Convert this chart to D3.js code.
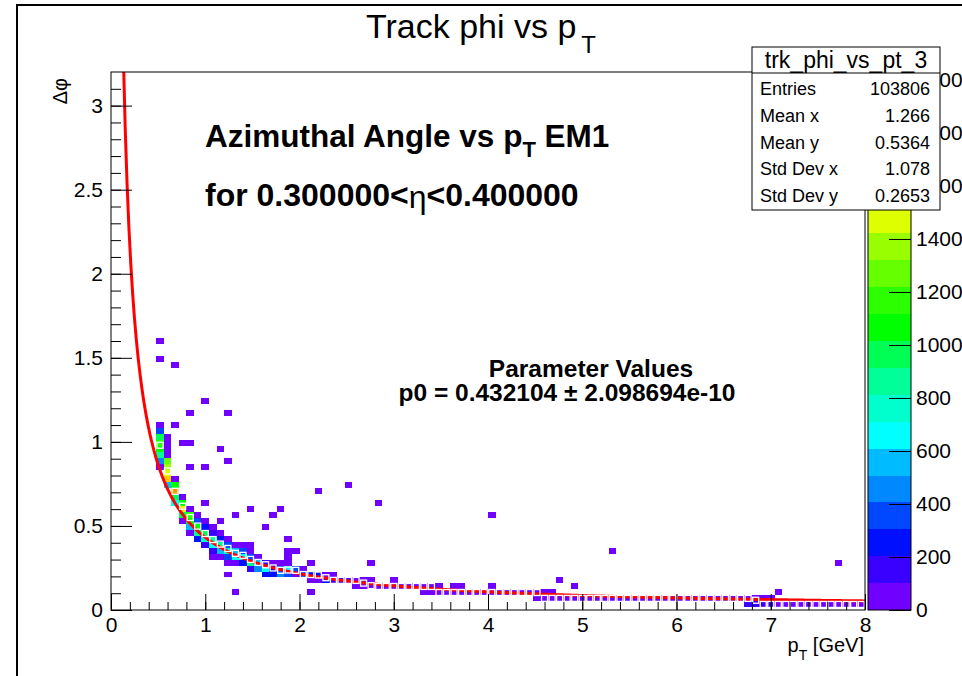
<!DOCTYPE html>
<html>
<head>
<meta charset="utf-8">
<script src="https://cdn.jsdelivr.net/npm/d3@7"></script>
<style>
  body { margin: 0; background: #fff; }
  svg { display: block; }
  text { font-family: "Liberation Sans", Arial, Helvetica, sans-serif; }
</style>
</head>
<body>
<svg id="canvas" width="962" height="676"></svg>
<script>
// ---- histogram binning (trk_phi_vs_pt_3) ----
const ptBins = 100, ptLow = 0, ptHigh = 8;
const phiBins = 90, phiLow = -0.02, phiHigh = 3.18;
const zMax = 2030, nContours = 20;

// core of the distribution: [ptBin, firstPhiBin, contents from low to high dphi]
const bandColumns = [
  [6, 24, [40, 460, 860, 1070, 1170, 960, 350, 40]],
  [7, 21, [560, 1680, 1480, 1370, 1270, 60, 40, 30, 20]],
  [8, 18, [660, 960, 1790, 1070, 50]],
  [9, 15, [40, 960, 1580, 1070, 50]],
  [10, 13, [40, 560, 1070, 1170, 45]],
  [11, 12, [250, 860, 1070, 350, 40]],
  [12, 11, [150, 760, 960, 250, 40]],
  [13, 9, [30, 150, 660, 860, 150, 30]],
  [14, 9, [40, 560, 860, 250, 40]],
  [15, 8, [40, 350, 760, 350, 30]],
  [16, 8, [40, 660, 560, 40]],
  [17, 8, [250, 660, 350, 40]],
  [18, 7, [150, 860, 350, 40, 30]],
  [19, 7, [460, 560, 40]],
  [20, 6, [250, 660, 150]],
  [21, 6, [250, 250, 40]],
  [22, 6, [460, 360, 30]],
  [23, 6, [350, 660, 40, 30, 30]],
  [24, 6, [60, 350]],
  [25, 6, [350, 40]],
  [26, 5, [40, 250]],
  [27, 5, [50, 250]],
  [28, 5, [250, 40]],
  [29, 5, [150, 30]],
  [30, 5, [150]],
  [31, 5, [130]],
  [32, 4, [40, 80]],
  [33, 4, [60, 60]],
  [34, 4, [70, 20]],
  [37, 4, [60, 15]]
];

// long tail at high pT: [phiBin, firstPtBin, lastPtBin, content]
const tailRuns = [
  [4, 35, 42, 55],
  [4, 43, 43, 12],
  [4, 45, 46, 10],
  [4, 50, 50, 8],
  [3, 41, 58, 45],
  [2, 56, 83, 40],
  [2, 84, 87, 60],
  [1, 84, 87, 130],
  [1, 88, 99, 45]
];

// isolated entries: [ptBin, phiBin, content]
const sparseCells = [
  [6, 45, 2], [6, 42, 2], [8, 41, 1], [12, 35, 1], [10, 33, 1], [15, 33, 1],
  [8, 31, 2], [9, 28, 1], [10, 28, 2], [14, 27, 1], [15, 25, 1], [10, 24, 1],
  [12, 24, 1], [27, 20, 1], [31, 21, 1], [35, 18, 1], [12, 18, 1], [22, 17, 1],
  [18, 17, 1], [16, 16, 1], [21, 16, 1], [14, 15, 1], [20, 14, 1], [23, 12, 1],
  [24, 10, 1], [26, 8, 1], [34, 8, 1], [96, 8, 1], [66, 10, 1], [50, 16, 1],
  [15, 6, 1], [16, 3, 1], [26, 3, 1], [59, 5, 1], [61, 4, 1], [88, 3, 1]
];

// mean dphi per pT bin, starting at bin 6
const profileFirstBin = 6;
const profileMean = [
  0.980, 0.827, 0.706, 0.617, 0.550, 0.499, 0.455, 0.419, 0.392, 0.366,
  0.337, 0.325, 0.301, 0.283, 0.269, 0.250, 0.236, 0.238, 0.236, 0.211,
  0.211, 0.208, 0.192, 0.176, 0.176, 0.176, 0.176, 0.160, 0.145, 0.140,
  0.140, 0.140, 0.140, 0.140, 0.140, 0.140, 0.140, 0.104, 0.104, 0.104,
  0.104, 0.104, 0.104, 0.104, 0.104, 0.104, 0.104, 0.104, 0.104, 0.104,
  0.104, 0.069, 0.069, 0.069, 0.069, 0.069, 0.069, 0.069, 0.069, 0.069,
  0.069, 0.069, 0.069, 0.069, 0.069, 0.069, 0.069, 0.069, 0.069, 0.069,
  0.069, 0.069, 0.069, 0.069, 0.069, 0.069, 0.069, 0.069, 0.069, 0.058,
  0.033, 0.033, 0.033, 0.033, 0.033, 0.033, 0.033, 0.033, 0.033, 0.033,
  0.033, 0.033, 0.033, 0.033
];

// fit result
const fitP0 = 0.432104;
const fitP0Err = "2.098694e-10";

// statistics box
const statsTitle = "trk_phi_vs_pt_3";
const statsRows = [
  ["Entries", "103806"],
  ["Mean x", "1.266"],
  ["Mean y", "0.5364"],
  ["Std Dev x", "1.078"],
  ["Std Dev y", "0.2653"]
];

const xTicks = [0, 1, 2, 3, 4, 5, 6, 7, 8];
const yTicks = [0, 0.5, 1, 1.5, 2, 2.5, 3];
const zTicks = [0, 200, 400, 600, 800, 1000, 1200, 1400, 1600, 1800, 2000];

// colour palette, one colour per contour level
const palette = [
  "#7000ff", "#3a00ff", "#0010ff", "#0048ff", "#0088ff",
  "#00bbff", "#00ffff", "#00ffcc", "#00ff99", "#00ff55",
  "#00ff00", "#2cff00", "#66ff00", "#99ff00", "#ddff00",
  "#ffee00", "#ffcc00", "#ff9900", "#ff5500", "#ff0000"
];

// ---- layout ----
const frame = { left: 111, right: 865, top: 72, bottom: 610 };
const sb = { left: 752, right: 940, top: 47, bottom: 210, head: 73 };
const svg = d3.select("#canvas");

const x = d3.scaleLinear().domain([0, 8]).range([frame.left, frame.right]);
const y = d3.scaleLinear().domain([0, 3.2]).range([frame.bottom, frame.top]);
const z = d3.scaleLinear().domain([0, zMax]).range([frame.bottom, frame.top]);

const ptWidth = (ptHigh - ptLow) / ptBins;
const phiWidth = (phiHigh - phiLow) / phiBins;
const levelOf = c => Math.min(nContours - 1, Math.floor(c / (zMax / nContours)));

// canvas outline
svg.append("line").attr("x1", 17).attr("x2", 962).attr("y1", 5).attr("y2", 5)
  .attr("stroke", "#000").attr("stroke-width", 2);
svg.append("line").attr("x1", 17).attr("x2", 17).attr("y1", 4).attr("y2", 676)
  .attr("stroke", "#000").attr("stroke-width", 2);

// collect all filled bins
const cells = [];
bandColumns.forEach(([ix, iy0, vals]) => vals.forEach((c, k) => cells.push([ix, iy0 + k, c])));
tailRuns.forEach(([iy, a, b, c]) => { for (let ix = a; ix <= b; ix++) cells.push([ix, iy, c]); });
sparseCells.forEach(d => cells.push(d));

const defs = svg.append("defs");
defs.append("clipPath").attr("id", "frameClip").append("rect")
  .attr("x", frame.left).attr("y", frame.top)
  .attr("width", frame.right - frame.left).attr("height", frame.bottom - frame.top);
// palette axis is hidden where the statistics box sits on top of it
defs.append("clipPath").attr("id", "paletteClip").append("path")
  .attr("d", `M${sb.right},0H962V676H0V${sb.bottom}H${sb.right}Z`);

const plot = svg.append("g").attr("clip-path", "url(#frameClip)");

plot.append("g").attr("shape-rendering", "crispEdges")
  .selectAll("rect").data(cells).join("rect")
  .attr("x", d => x(ptLow + d[0] * ptWidth))
  .attr("width", d => x(ptLow + (d[0] + 1) * ptWidth) - x(ptLow + d[0] * ptWidth))
  .attr("y", d => y(phiLow + (d[1] + 1) * phiWidth))
  .attr("height", d => y(phiLow + d[1] * phiWidth) - y(phiLow + (d[1] + 1) * phiWidth))
  .attr("fill", d => palette[levelOf(d[2])]);

// fitted function p0 / pT
const fitPts = d3.range(0, 401).map(k => {
  const pt = fitP0 / 3.3 + k * (8 - fitP0 / 3.3) / 400;
  return [pt, fitP0 / pt];
});
plot.append("path").datum(fitPts)
  .attr("d", d3.line().x(d => x(d[0])).y(d => y(d[1])))
  .attr("fill", "none").attr("stroke", "#ff0000").attr("stroke-width", 3);

// profile markers (open squares)
plot.append("g").selectAll("rect").data(profileMean).join("rect")
  .attr("x", (m, k) => x(ptLow + (profileFirstBin + k + 0.5) * ptWidth) - 3)
  .attr("y", m => y(m) - 3)
  .attr("width", 6).attr("height", 6)
  .attr("fill", "none").attr("stroke", "#fff").attr("stroke-width", 1.3);

// frame
svg.append("rect").attr("x", frame.left).attr("y", frame.top)
  .attr("width", frame.right - frame.left).attr("height", frame.bottom - frame.top)
  .attr("fill", "none").attr("stroke", "#000").attr("stroke-width", 1);

// axes: ticks drawn inward
const fmt = d => d3.format("~g")(d);
const yAxis = svg.append("g").attr("transform", `translate(${frame.left},0)`)
  .call(d3.axisLeft(y).tickValues(yTicks).tickSizeInner(-21).tickSizeOuter(0).tickPadding(8).tickFormat(fmt));
svg.append("g").attr("transform", `translate(${frame.left},0)`)
  .call(d3.axisLeft(y).tickValues(d3.range(0, 32).map(k => k / 10)).tickSizeInner(-10).tickSizeOuter(0).tickFormat(""));
const xAxis = svg.append("g").attr("transform", `translate(0,${frame.bottom})`)
  .call(d3.axisBottom(x).tickValues(xTicks).tickSizeInner(-16).tickSizeOuter(0).tickPadding(7).tickFormat(fmt));
svg.append("g").attr("transform", `translate(0,${frame.bottom})`)
  .call(d3.axisBottom(x).tickValues(d3.range(0, 41).map(k => k / 5)).tickSizeInner(-8).tickSizeOuter(0).tickFormat(""));

svg.selectAll(".domain").remove();
svg.selectAll(".tick line").attr("stroke", "#000").attr("stroke-width", 1);
yAxis.selectAll("text").attr("font-size", 21).attr("fill", "#000")
  .attr("font-family", "Liberation Sans, Arial, sans-serif");
xAxis.selectAll("text").attr("font-size", 21).attr("fill", "#000")
  .attr("font-family", "Liberation Sans, Arial, sans-serif");

// axis titles
const xt = svg.append("text").attr("x", 864).attr("y", 652).attr("text-anchor", "end")
  .attr("font-size", 20);
xt.append("tspan").text("p");
xt.append("tspan").attr("font-size", 14).attr("dy", 8).text("T");
xt.append("tspan").attr("dy", -8).text(" [GeV]");

svg.append("text").attr("transform", "translate(67,78) rotate(-90)")
  .attr("text-anchor", "end").attr("font-size", 20).text("\u0394\u03c6");

// colour bar
const bar = { left: 868, right: 911 };
svg.append("g").attr("shape-rendering", "crispEdges")
  .selectAll("rect").data(palette).join("rect")
  .attr("x", bar.left).attr("width", bar.right - bar.left)
  .attr("y", (c, k) => z((k + 1) * zMax / nContours))
  .attr("height", (c, k) => z(k * zMax / nContours) - z((k + 1) * zMax / nContours))
  .attr("fill", c => c);
svg.append("rect").attr("x", bar.left).attr("y", frame.top)
  .attr("width", bar.right - bar.left).attr("height", frame.bottom - frame.top)
  .attr("fill", "none").attr("stroke", "#000").attr("stroke-width", 1);
const zAxis = svg.append("g").attr("clip-path", "url(#paletteClip)")
  .append("g").attr("transform", `translate(${bar.right},0)`)
  .call(d3.axisRight(z).tickValues(zTicks).tickSizeInner(-22).tickSizeOuter(0).tickPadding(5).tickFormat(d3.format("d")));
zAxis.select(".domain").remove();
zAxis.selectAll(".tick line").attr("stroke", "#000");
zAxis.selectAll("text").attr("font-size", 21).attr("fill", "#000")
  .attr("font-family", "Liberation Sans, Arial, sans-serif");

// title
const title = svg.append("text").attr("x", 481).attr("y", 38).attr("text-anchor", "middle")
  .attr("font-size", 34);
title.append("tspan").text("Track phi vs p");
title.append("tspan").attr("font-size", 24).attr("dx", 5).attr("dy", 15).text("T");

// annotations
const a1 = svg.append("text").attr("x", 205).attr("y", 147).attr("font-size", 31.5).attr("font-weight", "bold");
a1.append("tspan").text("Azimuthal Angle vs p");
a1.append("tspan").attr("font-size", 22).attr("dy", 10).text("T");
a1.append("tspan").attr("dy", -10).text(" EM1");

const a2 = svg.append("text").attr("x", 205).attr("y", 206).attr("font-size", 32).attr("font-weight", "bold");
a2.append("tspan").text("for 0.300000<");
a2.append("tspan").attr("font-weight", "normal").attr("dy", 2).text("\u03b7");
a2.append("tspan").attr("dy", -2).text("<0.400000");

svg.append("text").attr("x", 591).attr("y", 377).attr("text-anchor", "middle")
  .attr("font-size", 24.5).attr("font-weight", "bold").text("Parameter Values");
svg.append("text").attr("x", 567).attr("y", 401).attr("text-anchor", "middle")
  .attr("font-size", 24.5).attr("font-weight", "bold")
  .text(`p0 = ${fitP0.toFixed(6)}  \u00b1 ${fitP0Err}`);

// statistics box
svg.append("rect").attr("x", sb.left).attr("y", sb.top)
  .attr("width", sb.right - sb.left).attr("height", sb.bottom - sb.top)
  .attr("fill", "#fff").attr("stroke", "#000").attr("stroke-width", 1);
svg.append("line").attr("x1", sb.left).attr("x2", sb.right).attr("y1", sb.head).attr("y2", sb.head)
  .attr("stroke", "#000");
svg.append("text").attr("x", (sb.left + sb.right) / 2).attr("y", 68).attr("text-anchor", "middle")
  .attr("font-size", 23).text(statsTitle);
const rowY = d3.scaleLinear().domain([0, statsRows.length - 1]).range([95, 202]);
statsRows.forEach(([label, val], k) => {
  svg.append("text").attr("x", 760).attr("y", rowY(k)).attr("font-size", 18).text(label);
  svg.append("text").attr("x", 930).attr("y", rowY(k)).attr("font-size", 18)
    .attr("text-anchor", "end").text(val);
});
</script>
</body>
</html>
